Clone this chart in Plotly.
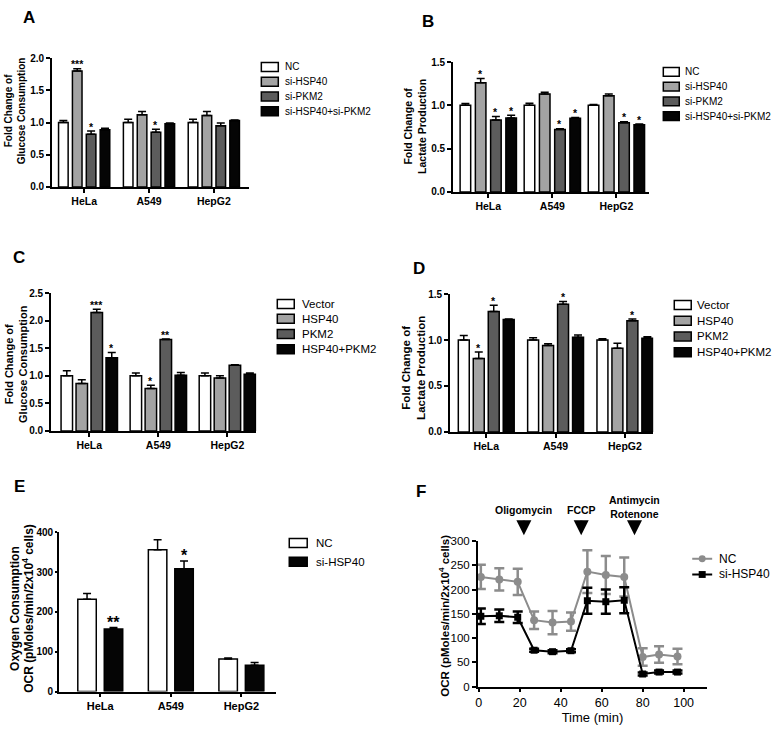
import plotly.graph_objects as go

FONT = "Arial, Liberation Sans, Helvetica, sans-serif"
W, H = 781, 730

cell_lines = ["HeLa", "A549", "HepG2"]

# ---- Panel A: glucose consumption, knockdown ----
a_groups = ["NC", "si-HSP40", "si-PKM2", "si-HSP40+si-PKM2"]
a_vals = [[1.00, 1.00, 1.00], [1.80, 1.12, 1.11], [0.82, 0.85, 0.95], [0.89, 0.98, 1.03]]
a_errs = [[0.03, 0.05, 0.05], [0.035, 0.05, 0.06], [0.05, 0.045, 0.045], [0.02, 0.015, 0.01]]
a_stars = [["", "", ""], ["***", "", ""], ["*", "*", ""], ["", "", ""]]

# ---- Panel B: lactate production, knockdown ----
b_vals = [[1.00, 1.00, 1.00], [1.26, 1.13, 1.11], [0.83, 0.72, 0.80], [0.855, 0.85, 0.775]]
b_errs = [[0.02, 0.025, 0.01], [0.05, 0.02, 0.02], [0.04, 0.01, 0.01], [0.03, 0.01, 0.01]]
b_stars = [["", "", ""], ["*", "", ""], ["*", "*", "*"], ["*", "*", "*"]]

# ---- Panel C: glucose consumption, overexpression ----
c_groups = ["Vector", "HSP40", "PKM2", "HSP40+PKM2"]
c_vals = [[1.00, 1.00, 1.00], [0.86, 0.77, 0.96], [2.15, 1.66, 1.19], [1.33, 1.01, 1.03]]
c_errs = [[0.09, 0.05, 0.05], [0.07, 0.06, 0.04], [0.06, 0.01, 0.01], [0.095, 0.05, 0.02]]
c_stars = [["", "", ""], ["", "*", ""], ["***", "**", ""], ["*", "", ""]]

# ---- Panel D: lactate production, overexpression ----
d_vals = [[1.00, 1.00, 1.00], [0.80, 0.94, 0.91], [1.31, 1.39, 1.21], [1.225, 1.03, 1.02]]
d_errs = [[0.05, 0.025, 0.015], [0.07, 0.02, 0.055], [0.07, 0.03, 0.02], [0.005, 0.025, 0.015]]
d_stars = [["", "", ""], ["*", "", ""], ["*", "*", "*"], ["", "", ""]]

# ---- Panel E: oxygen consumption ----
e_groups = ["NC", "si-HSP40"]
e_vals = [[232, 356, 82], [157, 308, 66]]
e_errs = [[14, 25, 2], [4, 20, 7]]
e_stars = [["", "", ""], ["**", "*", ""]]

# ---- Panel F: OCR time course ----
f_time = [1, 10, 19, 27, 36, 45, 53, 62, 71, 80, 88, 97]
f_nc = [226, 221, 216, 137, 132, 134, 237, 230, 226, 61, 66, 62]
f_nc_err = [25, 23, 27, 18, 24, 19, 44, 39, 40, 18, 17, 16]
f_si = [145, 146, 143, 75, 72, 74, 177, 175, 178, 26, 30, 30]
f_si_err = [16, 13, 12, 3, 3, 3, 27, 25, 27, 3, 3, 3]
f_injections = [22, 50, 76]
f_inj_labels = ["Oligomycin", "FCCP", "Antimycin<br>Rotenone"]

bar_colors4 = ["#ffffff", "#a3a3a3", "#5c5c5c", "#050505"]
bar_colors2 = ["#ffffff", "#050505"]


def px_x(p):
    return p / W


def px_y(p):
    return 1 - p / H


fig = go.Figure()
layout = dict(
    width=W, height=H, margin=dict(l=0, r=0, t=0, b=0),
    paper_bgcolor="white", plot_bgcolor="white",
    font=dict(family=FONT, color="black"),
    barmode="overlay", showlegend=False,
)
annotations = []
shapes = []


def axis_style(**kw):
    d = dict(showgrid=False, zeroline=False, showline=True, linecolor="black",
             linewidth=1.5, ticks="outside", ticklen=4, tickwidth=1.5, tickcolor="black")
    d.update(kw)
    return d


def fnt(size, bold=False):
    d = dict(size=size, family=FONT, color="black")
    if bold:
        d["weight"] = "bold"
    return d


def bar_panel(n, groups, vals, errs, stars, colors, xdom, ydom, xrange, yrange,
              dtick, tickfmt, slot, width, tickfont, catfont, starsize, capw, yticklen=4):
    xa = "x" if n == 1 else f"x{n}"
    ya = "y" if n == 1 else f"y{n}"
    ng = len(groups)
    for i, g in enumerate(groups):
        off = (i - ng / 2) * slot + (slot - width) / 2
        fig.add_trace(go.Bar(
            x=list(range(len(cell_lines))), y=vals[i], name=g,
            offset=off, width=width,
            marker=dict(color=colors[i], line=dict(color="black", width=1.5)),
            error_y=dict(type="data", array=errs[i], arrayminus=[0] * len(errs[i]),
                         symmetric=False, color="black", thickness=1.5, width=capw),
            xaxis=xa, yaxis=ya, showlegend=False,
        ))
        for j, s in enumerate(stars[i]):
            if s:
                annotations.append(dict(
                    x=j + off + width / 2, y=vals[i][j] + errs[i][j], xref=xa, yref=ya,
                    text=s, showarrow=False, yanchor="bottom", xanchor="center",
                    yshift=-starsize * 0.35, font=fnt(starsize, True)))
    key = "" if n == 1 else str(n)
    layout["xaxis" + key] = axis_style(
        domain=[px_x(xdom[0]), px_x(xdom[1])], range=xrange, anchor=ya,
        tickvals=list(range(len(cell_lines))), ticktext=cell_lines,
        tickfont=fnt(catfont, True))
    layout["yaxis" + key] = axis_style(
        domain=[px_y(ydom[1]), px_y(ydom[0])], range=yrange, anchor=xa,
        dtick=dtick, tick0=0, tickformat=tickfmt, ticklen=yticklen,
        tickfont=fnt(tickfont, True))


def bar_legend(groups, colors, x_icon, icon_w, icon_h, rows, x_text, fsize):
    for g, c, r in zip(groups, colors, rows):
        shapes.append(dict(type="rect", xref="paper", yref="paper",
                           x0=px_x(x_icon), x1=px_x(x_icon + icon_w),
                           y0=px_y(r + icon_h / 2), y1=px_y(r - icon_h / 2),
                           fillcolor=c, line=dict(color="black", width=1.5)))
        annotations.append(dict(x=px_x(x_text), y=px_y(r), xref="paper", yref="paper",
                                text=g, showarrow=False, xanchor="left", yanchor="middle",
                                font=fnt(fsize)))


def ytitle(text, xc, yc, size):
    annotations.append(dict(x=px_x(xc), y=px_y(yc), xref="paper", yref="paper",
                            text=text, textangle=-90, showarrow=False,
                            xanchor="center", yanchor="middle", font=fnt(size, True)))


def letter(t, xc, yc):
    annotations.append(dict(x=px_x(xc), y=px_y(yc), xref="paper", yref="paper",
                            text=t, showarrow=False, xanchor="center", yanchor="middle",
                            font=fnt(17, True)))


# Panel A
bar_panel(1, a_groups, a_vals, a_errs, a_stars, bar_colors4, (50, 248), (53, 184),
          [-0.498, 2.548], [0, 2.0], 0.5, ".1f", 0.214, 0.148, 10, 10.5, 10.5, 4)
bar_legend(a_groups, bar_colors4, 260, 17, 9, [62, 77, 92, 107], 282, 10)
ytitle("Fold Change of<br>Glucose Consumption", 13, 106, 10)
letter("A", 27.5, 12)

# Panel B
bar_panel(2, a_groups, b_vals, b_errs, b_stars, bar_colors4, (452, 649), (57, 189),
          [-0.553, 2.514], [0, 1.5], 0.5, ".1f", 0.238, 0.165, 10, 10.5, 10.5, 4)
bar_legend(a_groups, bar_colors4, 663, 16, 9, [67, 82, 97, 112], 683, 10)
ytitle("Fold Change of<br>Lactate Production", 414, 122, 10.5)
letter("B", 427.5, 15.5)

# Panel C
bar_panel(3, c_groups, c_vals, c_errs, c_stars, bar_colors4, (49, 255), (292, 432),
          [-0.556, 2.419], [0, 2.5], 0.5, ".1f", 0.217, 0.166, 10, 10.5, 10.5, 4)
bar_legend(c_groups, bar_colors4, 276, 17, 9, [303, 318, 333.5, 349], 299, 11.5)
ytitle("Fold Change of<br>Glucose Consumption", 14, 364, 11)
letter("C", 17.5, 255.5)

# Panel D
bar_panel(4, c_groups, d_vals, d_errs, d_stars, bar_colors4, (449, 653), (293, 433),
          [-0.525, 2.41], [0, 1.5], 0.5, ".1f", 0.216, 0.158, 10, 10.5, 10.5, 4)
bar_legend(c_groups, bar_colors4, 674, 17, 9, [304, 320, 336, 352], 695, 11.5)
ytitle("Fold Change of<br>Lactate Production", 413, 368, 11.5)
letter("D", 418, 267)

# Panel E
bar_panel(5, e_groups, e_vals, e_errs, e_stars, bar_colors2, (57, 275), (535, 697),
          [-0.587, 2.495], [0, 400], 100, "d", 0.375, 0.262, 10, 11, 16, 4, yticklen=2)
bar_legend(e_groups, bar_colors2, 288, 18, 9, [546, 565], 313, 11.5)
ytitle("Oxygen Consumption", 13, 612, 12)
ytitle("OCR (pMoles/min/2x10<sup>4</sup> cells)", 26, 612, 12)
letter("E", 17.5, 489)

# Panel F
fig.add_trace(go.Scatter(
    x=f_time, y=f_nc, name="NC", mode="lines+markers",
    line=dict(color="#8c8c8c", width=2),
    marker=dict(symbol="circle", size=8, color="#8c8c8c"),
    error_y=dict(type="data", array=f_nc_err, color="#8c8c8c", thickness=2.5, width=5),
    xaxis="x6", yaxis="y6", showlegend=False, cliponaxis=False))
fig.add_trace(go.Scatter(
    x=f_time, y=f_si, name="si-HSP40", mode="lines+markers",
    line=dict(color="black", width=2),
    marker=dict(symbol="square", size=7, color="black"),
    error_y=dict(type="data", array=f_si_err, color="black", thickness=2.5, width=5),
    xaxis="x6", yaxis="y6", showlegend=False, cliponaxis=False))
layout["xaxis6"] = axis_style(
    domain=[px_x(477), px_x(707)], range=[-0.5, 111.5], anchor="y6",
    dtick=20, tick0=0, ticklen=4,
    tickfont=fnt(12.5),
    title=dict(text="Time (min)", font=fnt(13), standoff=3))
layout["yaxis6"] = axis_style(
    domain=[px_y(692), px_y(544)], range=[0, 300], anchor="x6",
    dtick=50, tick0=0, ticklen=4,
    tickfont=fnt(11.5))
ytitle("OCR (pMoles/min/2x10<sup>4</sup> cells)", 443, 620, 11.5)
letter("F", 420, 494)

for t, lab in zip(f_injections, f_inj_labels):
    two = "<br>" in lab
    annotations.append(dict(x=t, y=px_y(538), xref="x6", yref="paper", ax=0,
                            ay=-28 if two else -25,
                            showarrow=True, arrowhead=2, arrowsize=1.2, arrowwidth=2.5,
                            arrowcolor="black", startstandoff=3, text=lab,
                            font=fnt(10.5, True)))

# Legend for F
for name, col, sym, r in [("NC", "#8c8c8c", "circle", 562), ("si-HSP40", "black", "square", 578)]:
    shapes.append(dict(type="line", xref="paper", yref="paper",
                       x0=px_x(692), x1=px_x(712), y0=px_y(r), y1=px_y(r),
                       line=dict(color=col, width=2)))
    shapes.append(dict(type="circle" if sym == "circle" else "rect", xref="paper", yref="paper",
                       x0=px_x(698.5), x1=px_x(705.5), y0=px_y(r + 3.5), y1=px_y(r - 3.5),
                       fillcolor=col, line=dict(color=col, width=0)))
    annotations.append(dict(x=px_x(717), y=px_y(r), xref="paper", yref="paper", text=name,
                            showarrow=False, xanchor="left", yanchor="middle",
                            font=fnt(12)))

layout["annotations"] = annotations
layout["shapes"] = shapes
fig.update_layout(**layout)
fig.write_html("out.html", config={"displayModeBar": False},
               post_script="document.body.style.margin='0px';document.body.style.overflow='hidden';")
